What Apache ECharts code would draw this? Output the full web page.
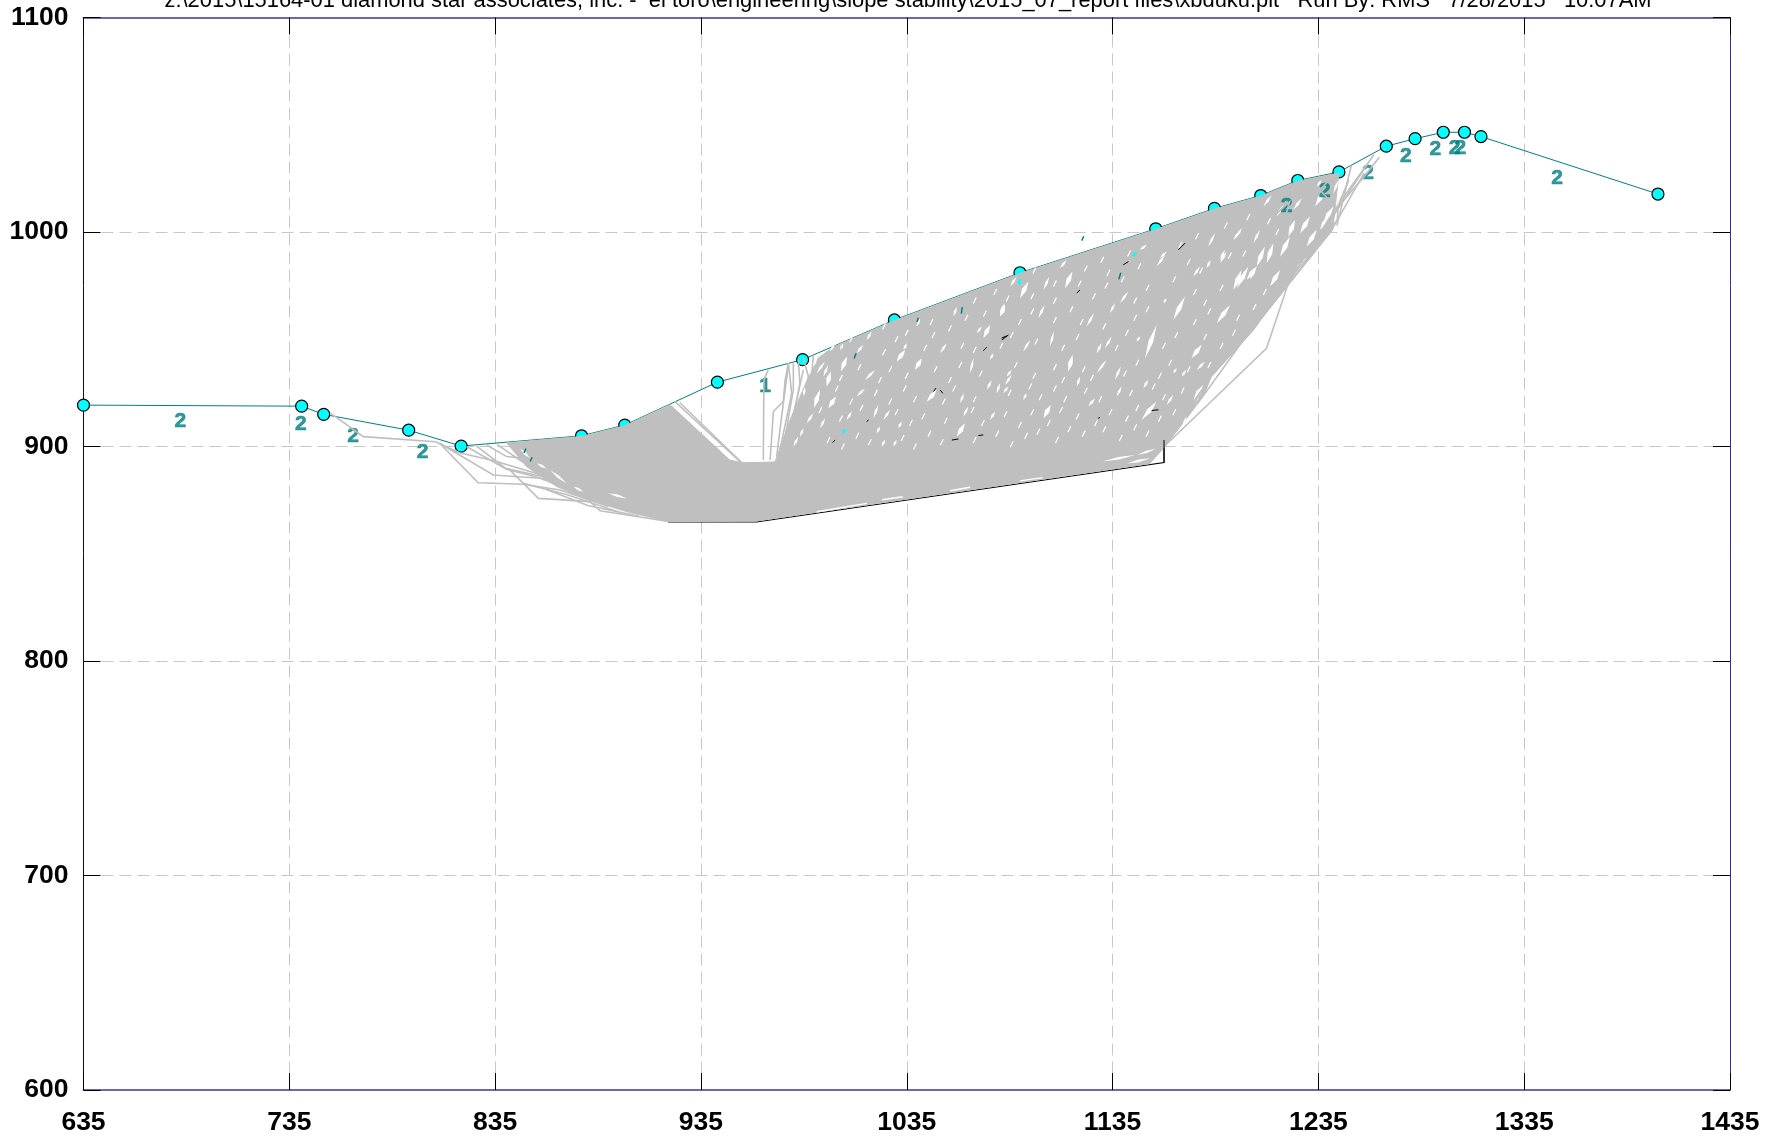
<!DOCTYPE html>
<html><head><meta charset="utf-8">
<style>html,body{margin:0;padding:0;background:#fff}#c{width:1785px;height:1138px}</style>
<script src="https://cdn.jsdelivr.net/npm/echarts@6/dist/echarts.min.js"></script>
</head><body><div id="c"></div>
<script>
const titleText = 'z:\\2015\\15164-01 diamond star associates, inc. -  el toro\\engineering\\slope stability\\2015_07_report files\\xbduku.plt   Run By: RMS   7/28/2015   10:07AM';
const xTicks = [635,735,835,935,1035,1135,1235,1335,1435];
const yTicks = [600,700,800,900,1000,1100];

const groundPoints = [[635,919.3],[741,918.8],[751.7,915],[793,907.6],[818.5,900.2],[877,905],[898,910],[943,930],[984.4,940.5],[1029,959],[1090,981],[1156,1001.5],[1184.5,1011],[1207,1017],[1225,1024],[1245,1028],[1268,1040],[1282,1043.5],[1295.7,1046.5],[1306,1046.5],[1314,1044.5],[1400,1017.7]];

const materialLabels = [[682,911.8,'2'],[740.6,910.3,'2'],[766,905,'2'],[799.8,897.5,'2'],[966.2,928.3,'1'],[1259.2,1027.6,'2'],[1277.5,1035.5,'2'],[1291.8,1038.7,'2'],[1301.2,1039.2,'2'],[1304,1039.2,'2'],[1351,1024.9,'2']];
const partlyHiddenLabels = [[1238.2,1018.8,'2'],[1219.6,1012.2,'2']];

const criticalBase = [[919,864.8],[962,864.8],[1160,892.5],[1160,903]];

const slipMass = [[840.6,901.7],[877,904.7],[898,909.7],[920,919.5],[949,893.7],[954.8,892.4],[971,892.8],[978.3,912.4],[985.6,928.7],[992,941.3],[1000,946.7],[1029,958.7],[1090,980.7],[1156,1001.2],[1184.5,1010.7],[1207,1016.7],[1225,1023.7],[1245,1027.5],[1242,1001],[1203,954.3],[1183,932.5],[1179,923.2],[1160.5,900],[1153,892],[961.5,865.2],[919,865],[899,869.6],[877.7,876],[865,881.3],[850.3,890.6]];

const leftFringe = [
 [[755,915.6],[771,904.6],[806,902.2],[818,897],[834,893.5],[860,886]],
 [[808,901.5],[826.8,883.1],[848.7,882.4],[866.5,879.7],[890,872]],
 [[808,901.5],[834.1,886.7],[856.8,885.2],[876.2,878.2]],
 [[821.2,899.9],[839.8,889.8],[858,886]],
 [[826,900.2],[840.6,889.4],[862,884]],
 [[830.9,900.7],[840.6,895.3],[856.8,893.7]],
 [[836,900.9],[848,893],[868,888]],
 [[841.4,889.8],[856,875.8],[881.1,874.3],[886,870],[919.2,865]],
 [[848.7,882.8],[870,877.5],[895,869.5]],
 [[860,880],[880,872.5],[905,867.5]],
 [[922.4,920.9],[954.8,892.2]],
 [[924.8,920.4],[954.8,892.5]]
];
const fanLines = [
 [[965.3,893.7],[965.6,931],[967.7,935.7]],
 [[968.6,893.7],[970.2,916.3],[975,921],[975.9,931],[977.5,938.8]],
 [[971.8,895.3],[974.2,914],[977.5,938]],
 [[974.2,895.3],[979.9,926.4],[979.9,938.8]],
 [[976.7,896.9],[983.1,929.5],[982.3,940.4]],
 [[978.3,900],[987.2,932.6],[984.8,941]],
 [[980.7,904.6],[988.8,932.6],[989.6,942.7]],
 [[983.1,912.4],[990.4,929.5],[996.1,944.3]],
 [[986.4,915.5],[996.1,937.3],[1001.8,946.6]],
 [[976,898.4],[984.8,935.7]],
 [[973.4,898.4],[979.1,924.8],[977.5,938.8]]
];
const rightFringe = [
 [[1160.1,900],[1209.8,945.8],[1221,977.7],[1244.2,1005.6],[1244.6,1011.8],[1257.2,1025.8],[1264.7,1035]],
 [[1160.5,901.5],[1182.8,932.6],[1203.3,954.3],[1221.9,979.2],[1244.2,1010.3],[1259.1,1032]],
 [[1160.1,904.6],[1180,924.8],[1203.3,955.9],[1218.2,973],[1242.4,1002.5],[1257.2,1027.4]],
 [[1242.4,1007.2],[1249.8,1024.3]],
 [[1244,1003],[1251,1031]],
 [[1236,1000],[1247,1016],[1262,1036]],
 [[1230,1012],[1236,1019.5],[1240,1015]],
 [[1214,1008],[1221,1014],[1218,1004]],
 [[1232,1016],[1240,1024]]
];

const gapsLarge = [
 [1044.7,920.9,1049.6,926.4],[1039,935.7,1042.3,941.1],[1030.1,939.6,1034.2,945],[1072.2,950.5,1075.5,956.7],[1080.3,960.6,1082.8,966],
 [996.9,917.8,1000.6,923.3],[1059.3,904.6,1063.3,910.8],[1111.9,973.8,1115.5,981.6],[1195.3,973.8,1201,983.9],[1200.2,977.7,1205,983.9],
 [1150.8,941.2,1156.4,956.7],[1164.5,959,1170.2,969.9],[1173.4,941.2,1178.3,947.4],[1185.6,957.5,1192.1,966],[1149.1,912.4,1156.4,921],
 [1113.5,935,1115.6,942.7],[1090,969.1,1094.1,976.9],[1174.3,921.7,1179.1,928.7],[1101.4,913.2,1105,919.4],
 [1193.7,973,1197.7,982.3],[1205,983.9,1209,993.2],[1209.9,985.4,1213.1,994.8],[1220.4,997.9,1223.6,1005.6],[1226.1,999.4,1230.9,1007.2],
 [1233.4,1011.9,1238.2,1019.6],[1237.4,1004.1,1242.3,1011.9],[1216.4,988.5,1221.2,997.9],[1222.8,979.2,1229.3,988.5],[1211.5,974.6,1216.4,982.3],
 [1229.3,993.2,1234.2,1001],[1235.8,1001,1239.9,1007.2],[996.1,928,998,935],[990,918,992.5,926],[1003,935,1006,942]
];
const gapsSmall = [
 [1057.7,960.6,1059.3,965.2],[1018.8,913.2,1021.2,919.4],[991.2,921.7,992.9,926.4],[994.5,932.6,996.9,938],[989.6,937.3,991.2,941.1],
 [1015.5,949.7,1018,953.6],[1010.7,943.5,1013.9,947.4],[1014.7,931,1019.6,935.7],[1010.7,923.3,1014.7,927.2],[1023.6,912.4,1026.9,917.1],
 [1062.5,914,1064.9,918.6],[1073.9,926.4,1076.3,931],[1078.7,924.8,1080.3,929.5],[1065.8,934.2,1067.4,941.1],[1051.2,943.5,1054.4,948.1],
 [1039.8,955.9,1041.5,959.8],[1082.8,928.7,1086,933.4],[1075.5,912.4,1077.9,916.3],[1060.9,920.2,1062.8,924.8],[1028.5,900,1030.1,903.1],
 [1022.8,900,1024.5,903.1],[1033.4,945,1035,948.1],[979.9,900,982.3,904.6],[983.1,904.6,984.8,908.5],[992.9,908.5,995.3,913.2],
 [986.4,910.8,989.6,915.5],[1005.8,912.4,1008.3,916.3],[1020.4,906.2,1022,909.3],[1030.9,908.5,1032.6,911.6],[984.8,923.3,985.6,927.9],
 [979.9,921.7,981.5,926.4],[991.2,934.2,995.3,939.6],[997.7,944.3,1000.2,948.1],[1002.6,945,1004.2,948.1],[1075.5,940.4,1077.1,943.5],
 [1069,952.8,1071.4,955.9],[1085.2,974.6,1088.4,979.2],[1101.4,973,1104.3,979.2],[1109.5,983.1,1112.7,987],[1156.4,983.9,1160.5,989.3],
 [1193.7,996.3,1196.6,1000.2],[1180.7,983.1,1182.7,987],[1138.6,966.8,1142.7,972.3],[1122.4,955.9,1126,962.2],[1098.9,959.8,1102,966],
 [1080.3,962.2,1082.7,966.8],[1091.6,944.3,1094.9,949.7],[1104.6,946.6,1106.5,953.6],[1127.3,943.5,1129.7,948.2],[1131.3,945.8,1134.6,951.3],
 [1127.3,934.2,1132.1,940.4],[1136.2,931.1,1139,937.3],[1150,927.2,1152.4,931.1],[1123.2,918.6,1126.5,922.5],[1083.5,932.6,1086,935.7],
 [1081.9,924.9,1084.4,928],[1091.6,921.7,1093.3,924.9],[1137,923.3,1139.4,928],[1117.6,928,1119.2,932.6],[1164.5,934.2,1166.2,936.5],
 [1168.6,932.6,1170.7,935.7],[1159.7,966.8,1161.3,969.1],[1133.8,962.2,1136.2,966.8],[1148.3,991.7,1151.6,994],[1146.7,948.9,1148.3,951.3],
 [1175.9,935.7,1179.9,939.6],[1161.3,919.4,1164.5,924.1],[1187.2,987,1189.6,991.7],[1208.3,1011.9,1212.3,1017.3],[1222.8,1010.3,1226.9,1015.7],
 [1214.7,1007.2,1218,1012.6],[1195.3,997.9,1197.7,1001.8],[1181.5,993.2,1184.8,999.4],[1158,987.8,1161.3,990.9],[1174.2,979.2,1177.5,983.9],
 [1187.2,985.4,1190.4,990.9],[1203.4,994.8,1206.6,1001],[1242.3,1018,1244.7,1024.3],[1234.2,1021.2,1236.6,1024.3],[1201.8,977.7,1205,983.9],
 [847.1,899.1,851.9,894.5],[861.7,889,869.8,882.8],[890,878.2,899,875.8],[873,881.3,877.9,878.9],[855.2,892.2,860,889.8],
 [1142,892.1,1153.3,894.5],[1130,893,1146,896],[1147,896,1156,899]
];
const baseSlivers = [[991.3,869.6,1015.6,873.5],[1056.1,879.4,1065.8,881],[1023,875.2,1033,876.6],[1090,884,1101,885.5]];
const tinyGaps = [
 [997,903],[1004,900],[1011,905],[1017,902],[1033,904],[1039,900],[1046,906],[1052,902],[1068,903],[1079,906],[1086,901],[1093,905],[1099,907],[1108,903],[1114,908],[1121,906],[1131,908],[1139,904],[1146,909],[1152,906],
 [993,917],[1003,913],[1013,918],[1030,916],[1037,911],[1043,914],[1054,912],[1067,917],[1072,911],[1083,915],[1090,910],[1096,916],[1104,911],[1110,917],[1118,914],[1127,911],[1134,916],[1142,913],[1147,918],[1158,913],[1165,916],[1170,912],
 [1001,927],[1008,921],[1020,925],[1027,921],[1034,927],[1039,922],[1053,921],[1058,927],[1068,922],[1085,925],[1095,928],[1100,923],[1107,927],[1112,922],[1122,926],[1129,922],[1144,925],[1155,928],[1160,923],[1169,926],[1176,921],
 [1003,932],[1012,937],[1022,931],[1027,936],[1035,933],[1049,936],[1056,931],[1061,938],[1071,934],[1088,938],[1097,933],[1107,937],[1111,931],[1121,936],[1125,932],[1141,934],[1147,939],[1158,933],[1163,939],[1172,936],[1182,938],
 [1008,950],[1024,944],[1030,950],[1044,946],[1048,952],[1062,947],[1068,945],[1081,947],[1086,952],[1098,949],[1111,946],[1118,951],[1137,946],[1142,953],[1160,947],[1166,952],[1180,951],[1188,947],[1194,953],
 [1024,956],[1035,953],[1047,958],[1056,955],[1064,960],[1073,962],[1090,958],[1096,963],[1107,959],[1115,964],[1120,958],[1131,956],[1146,960],[1152,964],[1175,958],[1182,963],[1196,960],[1204,965],
 [1068,968],[1078,972],[1084,969],[1096,970],[1107,968],[1119,976],[1126,970],[1132,975],[1146,968],[1152,974],[1175,972],[1180,967],[1188,974],[1209,972],
 [1097,982],[1107,976],[1122,983],[1133,981],[1140,978],[1148,984],[1165,978],[1172,986],[1178,982],[1192,989],[1199,990],[1215,1000],[1211,1005],[1176,998],[1168,994],[1143,990],[1130,987],[1190,1003],[1201,1007]
];
const blackSpecks = [
 [1048,925.6,1049.2,927.2],[1072.2,944.7,1073.9,946.3],[1081.2,949.7,1084.4,952],[999,901.8,1000.2,903.1],[1015.5,911.6,1016.5,912.4],
 [1056.9,903,1060.1,903.5],[1069.8,905.1,1072.2,905.4],[1051.2,926.4,1052.5,924.8],[1167,991.7,1170.2,994.8],[1140.2,984.7,1142.7,986.2],
 [1081.1,950.5,1083.5,951.6],[1117.6,971.5,1119.2,973],[1154,916.8,1157.3,917.1],[1128,913.2,1128.9,913.5],[1160,903,1160,892.5]
];
const tealSpecks = [[1009.4,941,1010.4,943.5],[1061.5,962,1062,965],[1040,958,1040.6,960],[1138,978,1139,981],[1120,996,1121,998],[849,897,850,899],[852,893,853,895]];
const cyanSpecks = [[1004,906.2,1005,908],[1145,988.6,1146.2,990.5],[1089.5,975.5,1090.2,978]];

const MASS = '#bfbfbf', TEAL = '#008080', FONT = '"Liberation Sans"';
let zNext = 2;

function polyRenderer(list, stroke, width){
  return {
    type:'custom', coordinateSystem:'cartesian2d', silent:true, clip:true, z:zNext++,
    data:list.map(l=>l[0]),
    renderItem(p, api){
      return {type:'polyline', shape:{points:list[p.dataIndex].map(q=>api.coord(q))},
              style:{stroke, lineWidth:width, fill:null}};
    }
  };
}
function massPolygon(points){
  return {
    type:'custom', coordinateSystem:'cartesian2d', silent:true, clip:true, z:zNext++,
    data:[points[0]],
    renderItem(p, api){
      return {type:'polygon', shape:{points:points.map(q=>api.coord(q))}, style:{fill:MASS,stroke:MASS,lineWidth:1}};
    }
  };
}
function segRenderer(list, stroke, width){
  return {
    type:'custom', coordinateSystem:'cartesian2d', silent:true, clip:true, z:zNext++,
    data:list.map(s=>[s[0],s[1]]),
    renderItem(p, api){
      const s=list[p.dataIndex], a=api.coord([s[0],s[1]]), b=api.coord([s[2],s[3]]);
      return {type:'line', shape:{x1:a[0],y1:a[1],x2:b[0],y2:b[1]}, style:{stroke, lineWidth:width}};
    }
  };
}
function lensRenderer(list, fill, half){
  return {
    type:'custom', coordinateSystem:'cartesian2d', silent:true, clip:true, z:zNext++,
    data:list.map(s=>[s[0],s[1]]),
    renderItem(p, api){
      const s=list[p.dataIndex], a=api.coord([s[0],s[1]]), b=api.coord([s[2],s[3]]);
      const mx=(a[0]+b[0])/2, my=(a[1]+b[1])/2, dx=b[0]-a[0], dy=b[1]-a[1], n=Math.hypot(dx,dy)||1;
      const ox=-dy/n*half, oy=dx/n*half;
      return {type:'polygon', shape:{points:[a,[mx+ox,my+oy],b,[mx-ox,my-oy]]}, style:{fill}};
    }
  };
}
function tinyRenderer(list){
  return {
    type:'custom', coordinateSystem:'cartesian2d', silent:true, clip:true, z:zNext++,
    data:list,
    renderItem(p, api){
      const a=api.coord(list[p.dataIndex]);
      return {type:'line', shape:{x1:a[0]-1.5,y1:a[1]+3,x2:a[0]+1.5,y2:a[1]-3}, style:{stroke:'#fff',lineWidth:1.2}};
    }
  };
}
function labelSeries(list){
  return {
    type:'scatter', symbolSize:0, silent:true, z:zNext++, data:list.map(l=>({value:[l[0],l[1]],name:l[2]})),
    label:{show:true, position:'inside', formatter:p=>p.name, color:TEAL, fontFamily:FONT, fontWeight:'bold', fontSize:21, textBorderColor:TEAL, textBorderWidth:0.6}
  };
}
const axisBase = {type:'value', axisLabel:{show:false}, splitLine:{show:false}, axisTick:{show:true,inside:true,length:17,lineStyle:{color:'#000',width:1}}};

const chart = echarts.init(document.getElementById('c'), null, {renderer:'canvas'});
chart.setOption({
  animation:false, backgroundColor:'#fff',
  title:{text:titleText, left:903, textAlign:'center', top:-15, textStyle:{fontFamily:FONT,fontWeight:'normal',fontSize:21.9,color:'#000'}},
  grid:{left:83.5,right:55,top:17.5,bottom:48,containLabel:false},
  xAxis:[
   {...axisBase, min:635,max:1435, position:'bottom',
    axisLine:{show:true,onZero:false,lineStyle:{color:'#6a6ab4',width:2}},
    axisTick:{...axisBase.axisTick, customValues:xTicks},
    axisLabel:{show:true, customValues:xTicks, margin:19, color:'#000', fontFamily:FONT, fontWeight:'bold', fontSize:26.5, hideOverlap:false, showMinLabel:true, showMaxLabel:true, formatter:v=>String(v)},
    splitLine:{show:true,showMinLine:false,showMaxLine:false,lineStyle:{color:'#c8c8c8',width:1,type:[12,6]}}},
   {...axisBase, min:635,max:1435, position:'top',
    axisLine:{show:true,onZero:false,lineStyle:{color:'#6a6ab4',width:2}},
    axisTick:{...axisBase.axisTick, customValues:xTicks}}
  ],
  yAxis:[
   {...axisBase, min:600,max:1100,interval:100, position:'left',
    axisLine:{show:true,onZero:false,lineStyle:{color:'#000090',width:1}},
    axisLabel:{show:true, margin:15, color:'#000', fontFamily:FONT, fontWeight:'bold', fontSize:26.5, verticalAlign:'middle', padding:[8,0,0,0], formatter:v=>yTicks.includes(v)?String(v):''},
    splitLine:{show:true,showMinLine:false,showMaxLine:false,lineStyle:{color:'#c8c8c8',width:1,type:[12,6]}}},
   {...axisBase, min:600,max:1100,interval:100, position:'right',
    axisLine:{show:true,onZero:false,lineStyle:{color:'#303088',width:1}}}
  ],
  series:[
    {type:'line', z:1, data:groundPoints, silent:true, symbol:'circle', symbolSize:12, showAllSymbols:true, showSymbol:true,
     lineStyle:{color:TEAL,width:1}, itemStyle:{color:'#00ffff',borderColor:'#000',borderWidth:1.2}, clip:false},
    labelSeries(materialLabels),
    polyRenderer([criticalBase],'#000',1.2),
    massPolygon(slipMass),
    polyRenderer(leftFringe,MASS,1.6),
    polyRenderer(fanLines,MASS,1.6),
    lensRenderer(gapsLarge,'#ffffff',2.4),
    lensRenderer(gapsSmall,'#ffffff',1.3),
    segRenderer(baseSlivers,'#ffffff',1.4),
    tinyRenderer(tinyGaps),
    labelSeries(partlyHiddenLabels),
    polyRenderer(rightFringe,MASS,1.6),
    segRenderer(blackSpecks,'#000',1),
    segRenderer(tealSpecks,TEAL,1.5),
    segRenderer(cyanSpecks,'#00ffff',2.5)
  ]
});
</script></body></html>
